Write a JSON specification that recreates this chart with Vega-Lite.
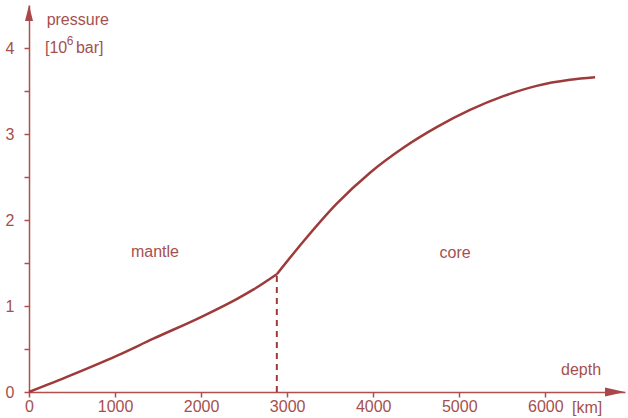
{
  "$schema": "https://vega.github.io/schema/vega-lite/v6.json",
  "width": 596,
  "height": 387,
  "autosize": {"type": "none"},
  "padding": {"left": 29, "top": 5, "right": 3, "bottom": 26},
  "background": "white",
  "config": {"view": {"stroke": null}, "font": "Liberation Sans"},
  "layer": [
    {
      "data": {"values": [
        {"segment": "mantle", "depth": 0, "pressure": 0},
        {"segment": "mantle", "depth": 476, "pressure": 0.19},
        {"segment": "mantle", "depth": 1018, "pressure": 0.42},
        {"segment": "mantle", "depth": 1445, "pressure": 0.62},
        {"segment": "mantle", "depth": 2017, "pressure": 0.88},
        {"segment": "mantle", "depth": 2413, "pressure": 1.08},
        {"segment": "mantle", "depth": 2605, "pressure": 1.19},
        {"segment": "mantle", "depth": 2880, "pressure": 1.37},
        {"segment": "core", "depth": 2880, "pressure": 1.37},
        {"segment": "core", "depth": 3188, "pressure": 1.75},
        {"segment": "core", "depth": 3576, "pressure": 2.19},
        {"segment": "core", "depth": 3963, "pressure": 2.55},
        {"segment": "core", "depth": 4350, "pressure": 2.84},
        {"segment": "core", "depth": 4738, "pressure": 3.08},
        {"segment": "core", "depth": 5125, "pressure": 3.28},
        {"segment": "core", "depth": 5512, "pressure": 3.44},
        {"segment": "core", "depth": 5899, "pressure": 3.56},
        {"segment": "core", "depth": 6287, "pressure": 3.63},
        {"segment": "core", "depth": 6578, "pressure": 3.66}
      ]},
      "mark": {"type": "line", "interpolate": "monotone", "color": "#9e3a3a", "strokeWidth": 2.5},
      "encoding": {
        "x": {
          "field": "depth", "type": "quantitative",
          "scale": {"domain": [0, 6926], "nice": false, "zero": false},
          "axis": {
            "title": null, "grid": false,
            "values": [0, 1000, 2000, 3000, 4000, 5000, 6000],
            "format": "d", "labelFlush": false, "labelOverlap": false,
            "domainColor": "#b04f4d", "domainWidth": 1.5,
            "tickColor": "#b04f4d", "tickWidth": 1.5, "tickSize": 5,
            "labelFontSize": 16, "labelColor": "#a5504e", "labelPadding": 1,
            "labelFont": "Liberation Sans"
          }
        },
        "y": {
          "field": "pressure", "type": "quantitative",
          "scale": {"domain": [0, 4.5], "nice": false, "zero": false},
          "axis": {
            "title": null, "grid": false,
            "values": [0, 0.5, 1, 1.5, 2, 2.5, 3, 3.5, 4],
            "labelExpr": "datum.value % 1 === 0 ? format(datum.value, 'd') : ''",
            "labelFlush": false, "labelOverlap": false,
            "domainColor": "#b04f4d", "domainWidth": 1.5,
            "tickColor": "#b04f4d", "tickWidth": 1.5, "tickSize": 5,
            "labelFontSize": 16, "labelColor": "#a5504e", "labelPadding": 10,
            "labelFont": "Liberation Sans"
          }
        },
        "detail": {"field": "segment"}
      }
    },
    {
      "data": {"values": [{"depth": 2880, "pressure": 1.37, "base": 0}]},
      "mark": {"type": "rule", "color": "#9e3a3a", "strokeWidth": 2, "strokeDash": [6, 5]},
      "encoding": {
        "x": {"field": "depth", "type": "quantitative"},
        "y": {"field": "base", "type": "quantitative"},
        "y2": {"field": "pressure"}
      }
    },
    {
      "data": {"values": [{"depth": 0, "pressure": 4.407}]},
      "mark": {"type": "point", "filled": true, "opacity": 1, "shape": "M0,-1L-0.5,1L0.5,1Z", "size": 256, "color": "#a8484a", "strokeWidth": 0},
      "encoding": {
        "x": {"field": "depth", "type": "quantitative"},
        "y": {"field": "pressure", "type": "quantitative"}
      }
    },
    {
      "data": {"values": [{"depth": 6810, "pressure": 0}]},
      "mark": {"type": "point", "filled": true, "opacity": 1, "shape": "M1,0L-1,-0.45L-1,0.45Z", "size": 400, "color": "#a8484a", "strokeWidth": 0},
      "encoding": {
        "x": {"field": "depth", "type": "quantitative"},
        "y": {"field": "pressure", "type": "quantitative"}
      }
    },
    {
      "data": {"values": [
        {"label": "mantle", "depth": 1464, "pressure": 1.63},
        {"label": "core", "depth": 4951, "pressure": 1.62},
        {"label": "depth", "depth": 6415, "pressure": 0.256},
        {"label": "[km]", "depth": 6485, "pressure": -0.186}
      ]},
      "mark": {"type": "text", "fontSize": 16, "color": "#a5504e", "align": "center", "baseline": "middle", "font": "Liberation Sans"},
      "encoding": {
        "x": {"field": "depth", "type": "quantitative"},
        "y": {"field": "pressure", "type": "quantitative"},
        "text": {"field": "label"}
      }
    },
    {
      "data": {"values": [
        {"label": "pressure", "depth": 205, "pressure": 4.33},
        {"label": "[10", "depth": 186, "pressure": 4.0},
        {"label": "bar]", "depth": 545, "pressure": 4.0}
      ]},
      "mark": {"type": "text", "fontSize": 16, "color": "#a5504e", "align": "left", "baseline": "middle", "font": "Liberation Sans"},
      "encoding": {
        "x": {"field": "depth", "type": "quantitative"},
        "y": {"field": "pressure", "type": "quantitative"},
        "text": {"field": "label"}
      }
    },
    {
      "data": {"values": [
        {"label": "6", "depth": 440, "pressure": 4.08}
      ]},
      "mark": {"type": "text", "fontSize": 12, "color": "#a5504e", "align": "left", "baseline": "middle", "font": "Liberation Sans"},
      "encoding": {
        "x": {"field": "depth", "type": "quantitative"},
        "y": {"field": "pressure", "type": "quantitative"},
        "text": {"field": "label"}
      }
    }
  ]
}
